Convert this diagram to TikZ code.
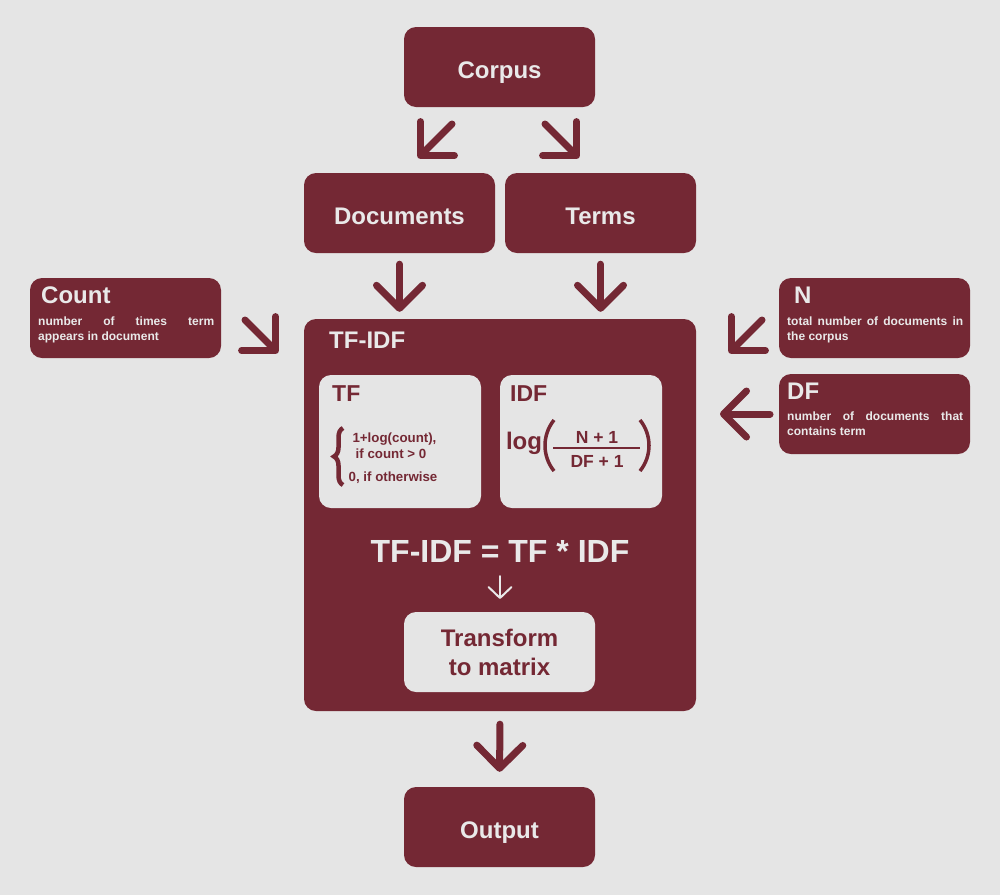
\documentclass[tikz,border=0pt]{standalone}
\usepackage{fontspec}
\setmainfont{Liberation Sans}
\usetikzlibrary{arrows.meta,decorations.pathreplacing}
\definecolor{wine}{RGB}{116,40,52}
\definecolor{paper}{RGB}{229,229,229}
\definecolor{chalk}{RGB}{233,233,233}

\begin{document}
\begin{tikzpicture}[x=1pt, y=-1pt]
  \tikzstyle{block} = [fill=wine, rounded corners=12pt, text=chalk, font=\bfseries\fontsize{24}{28}\selectfont, minimum width=191pt, minimum height=80pt, inner sep=0pt]
  \tikzstyle{caps} = [text height=22pt, text depth=0pt]
  \tikzstyle{panel} = [fill=paper, rounded corners=12pt, minimum width=162pt, minimum height=133pt, inner sep=0pt]
  \tikzstyle{title} = [text=chalk, font=\bfseries\fontsize{24}{28}\selectfont, inner sep=0pt]
  \tikzstyle{note} = [text=chalk, font=\bfseries\fontsize{12}{15}\selectfont, text width=176pt, align=justify, inner sep=0pt, anchor=north west]
  \tikzstyle{small} = [text=wine, font=\bfseries\fontsize{13.3}{15}\selectfont, inner sep=0pt]
  \tikzstyle{flow} = [draw=wine, line width=7pt, line cap=round, -{Straight Barb[length=23pt, width=46pt, round]}]
  \tikzstyle{slant} = [flow, -{Straight Barb[length=24pt, width=48pt, round]}]
  \fill[paper] (0,0) rectangle (1000,895);
  \useasboundingbox (0,0) rectangle (1000,895);
  % top row
  \node[block, caps] (corpus) at (499.5,67) {Corpus};
  \node[block, caps] (docs) at (399.5,213) {Documents};
  \node[block, caps] (terms) at (600.5,213) {Terms};
  % main box
  \node[block, minimum width=392pt, minimum height=392pt] (tfidf) at (500,515) {};
  \node[title, anchor=west] (tfidfname) at (329,340) {TF-IDF};
  \node[panel] (tf) at (400,441.5) {};
  \node[panel] (idf) at (581,441.5) {};
  \node[title, text=wine, font=\bfseries\fontsize{23}{27}\selectfont, anchor=west] (tfname) at (332,394) {TF};
  \node[title, text=wine, font=\bfseries\fontsize{23}{27}\selectfont, anchor=west] (idfname) at (510,394) {IDF};
  % tf formula
  \draw[wine, line width=4.5pt, decorate, decoration={brace, amplitude=9pt}] (343,485) -- (343,428);
  \node[small] (tfa) at (394.5,439) {1+log(count),};
  \node[small] (tfb) at (391,454) {if count > 0};
  \node[small] (tfc) at (393,478) {0, if otherwise};
  % idf formula
  \node[small, font=\bfseries\fontsize{24}{28}\selectfont] (idflog) at (524,443) {log};
  \node[small, font=\bfseries\fontsize{17.5}{20}\selectfont] (idfnum) at (597,437) {N + 1};
  \node[small, font=\bfseries\fontsize{17.5}{20}\selectfont] (idfden) at (597,461) {DF + 1};
  \draw[wine, line width=1.5pt] (553,448) -- (640,448);
  \draw[wine, line width=3.5pt] (554,420) .. controls (542,435) and (542,456) .. (554,471);
  \draw[wine, line width=3.5pt] (640,420) .. controls (652,435) and (652,456) .. (640,471);
  \node[title, font=\bfseries\fontsize{32}{36}\selectfont] (formula) at (500,551) {TF-IDF = TF * IDF};
  \node[block, fill=paper, text=wine, align=center, font=\bfseries\fontsize{24}{29}\selectfont] (matrix) at (499.5,652) {Transform\\to matrix};
  \coordinate (eqdown) at (500,576);
  \coordinate (mxup) at (500,599);
  \draw[chalk, line width=2pt, line cap=round, -{Straight Barb[length=11pt, width=23pt, round]}] (eqdown) -- (mxup);
  \node[block, caps] (output) at (499.5,827) {Output};
  % side boxes
  \node[block] (count) at (125.5,318) {};
  \node[title, anchor=west] (countname) at (41,295) {Count};
  \node[note] (countnote) at (38,316.5) {number of times term\linebreak appears in document};
  \node[block] (total) at (874.5,318) {};
  \node[title, anchor=west] (totalname) at (794,295) {N};
  \node[note] (totalnote) at (787,316.5) {total number of documents in\linebreak the corpus};
  \node[block] (df) at (874.5,414) {};
  \node[title, anchor=west] (dfname) at (787,391) {DF};
  \node[note] (dfnote) at (787,411.5) {number of documents that\linebreak contains term};
  % arrows
  \coordinate (corpusL) at (452,124);
  \coordinate (docsIn) at (418,158);
  \coordinate (corpusR) at (545,124);
  \coordinate (termsIn) at (579,158);
  \draw[slant] (corpusL) -- (docsIn);
  \draw[slant] (corpusR) -- (termsIn);
  \draw[flow, shorten <=11pt, shorten >=7pt] (docs.south) -- (docs.south |- tfidf.north);
  \draw[flow, shorten <=11pt, shorten >=7pt] (terms.south) -- (terms.south |- tfidf.north);
  \coordinate (countOut) at (245,320);
  \coordinate (countIn) at (278,353);
  \draw[slant] (countOut) -- (countIn);
  \coordinate (totalOut) at (762,320);
  \coordinate (totalIn) at (729,353);
  \draw[slant] (totalOut) -- (totalIn);
  \coordinate (dfOut) at (770,414);
  \coordinate (dfIn) at (720,414);
  \draw[flow] (dfOut) -- (dfIn);
  \draw[flow, shorten <=13pt, shorten >=15pt] (tfidf.south) -- (output.north);
\end{tikzpicture}
\end{document}
